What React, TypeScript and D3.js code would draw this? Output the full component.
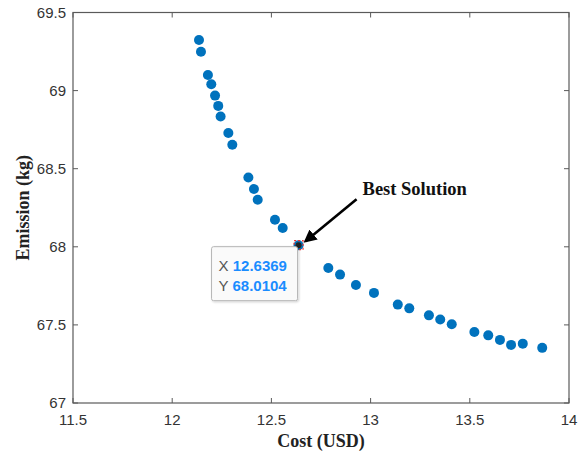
import React from 'react'
import * as d3 from 'd3'

// Pareto front
const cost = [
  12.135, 12.145, 12.18, 12.197, 12.216, 12.232, 12.244, 12.283, 12.303,
  12.384, 12.412, 12.431, 12.518, 12.557, 12.6369, 12.787, 12.846, 12.926,
  13.017, 13.137, 13.195, 13.294, 13.351, 13.409, 13.523, 13.593, 13.652,
  13.708, 13.767, 13.865,
]
const emission = [
  69.324, 69.249, 69.1, 69.041, 68.968, 68.902, 68.834, 68.728, 68.653,
  68.444, 68.37, 68.301, 68.173, 68.12, 68.0104, 67.864, 67.822, 67.756,
  67.705, 67.63, 67.606, 67.561, 67.534, 67.504, 67.455, 67.433, 67.404,
  67.372, 67.38, 67.353,
]
const xTicks = [11.5, 12, 12.5, 13, 13.5, 14]
const yTicks = [67, 67.5, 68, 68.5, 69, 69.5]
const best = { x: 12.6369, y: 68.0104, label: 'Best Solution' }

const W = 588
const H = 455
const margin = { left: 73, right: 19, top: 12.5, bottom: 52 }

const tickFont = '"Liberation Sans", Arial, sans-serif'
const labelFont = '"Liberation Serif", "Times New Roman", serif'

export default function App() {
  const x = d3.scaleLinear().domain([11.5, 14]).range([margin.left, W - margin.right])
  const y = d3.scaleLinear().domain([67, 69.5]).range([H - margin.bottom, margin.top])
  const [x0, x1] = x.range()
  const [y0, y1] = y.range()
  const axisColor = '#5a5a5a'
  const tl = 5

  const pts = d3.zip(cost, emission)
  const bx = x(best.x)
  const by = y(best.y)

  // arrow from the label down to the chosen point
  const ax0 = bx + 58
  const ay0 = by - 46
  const ax1 = bx + 7
  const ay1 = by - 4

  return (
    <div style={{ position: 'absolute', left: 0, top: 0 }}>
      <svg width={W} height={H} style={{ display: 'block', background: '#fff' }}>
        <defs>
          <marker id="head" viewBox="0 0 10 10" refX="8" refY="5" markerWidth="5" markerHeight="5" orient="auto">
            <path d="M0,0 L10,5 L0,10 z" fill="#000" />
          </marker>
          <filter id="shadow" x="-10%" y="-10%" width="130%" height="130%">
            <feDropShadow dx="1" dy="1" stdDeviation="1" floodColor="#000" floodOpacity="0.2" />
          </filter>
        </defs>

        {/* box */}
        <rect x={x0} y={y1} width={x1 - x0} height={y0 - y1} fill="none" stroke={axisColor} strokeWidth={1.2} />

        {xTicks.map((t) => (
          <g key={'x' + t}>
            <line x1={x(t)} x2={x(t)} y1={y0} y2={y0 - tl} stroke={axisColor} />
            <line x1={x(t)} x2={x(t)} y1={y1} y2={y1 + tl} stroke={axisColor} />
            <text x={x(t)} y={y0 + 22} textAnchor="middle" fontFamily={tickFont} fontSize={15} fill="#333">
              {t}
            </text>
          </g>
        ))}
        {yTicks.map((t) => (
          <g key={'y' + t}>
            <line x1={x0} x2={x0 + tl} y1={y(t)} y2={y(t)} stroke={axisColor} />
            <line x1={x1} x2={x1 - tl} y1={y(t)} y2={y(t)} stroke={axisColor} />
            <text x={x0 - 7} y={y(t) + 5} textAnchor="end" fontFamily={tickFont} fontSize={15} fill="#333">
              {t}
            </text>
          </g>
        ))}

        <text x={(x0 + x1) / 2} y={447} textAnchor="middle" fontFamily={labelFont} fontWeight="bold" fontSize={18} fill="#222">
          Cost (USD)
        </text>
        <text
          transform={`translate(29,${(y0 + y1) / 2}) rotate(-90)`}
          textAnchor="middle"
          fontFamily={labelFont}
          fontWeight="bold"
          fontSize={18}
          fill="#222"
        >
          Emission (kg)
        </text>

        {pts.map(([c, e], i) => (
          <circle key={i} cx={x(c)} cy={y(e)} r={5} fill="#0072BD" />
        ))}

        {/* data tip */}
        <rect x={bx - 4.5} y={by - 4.5} width={9} height={9} fill="none" stroke="#e33" strokeWidth={1.2} strokeDasharray="2,2" />
        <circle cx={bx} cy={by} r={3} fill="#222" />
        <g filter="url(#shadow)">
          <rect x={bx - 87} y={by + 1.5} width={86} height={54} rx={2} fill="#fafafa" stroke="#b5b5b5" />
        </g>
        <text x={bx - 80} y={by + 26} fontFamily={tickFont} fontSize={15}>
          <tspan fill="#555">X </tspan>
          <tspan fill="#1a8cff" fontWeight="bold">{best.x.toFixed(4)}</tspan>
        </text>
        <text x={bx - 80} y={by + 46} fontFamily={tickFont} fontSize={15}>
          <tspan fill="#555">Y </tspan>
          <tspan fill="#1a8cff" fontWeight="bold">{best.y.toFixed(4)}</tspan>
        </text>

        <line x1={ax0} y1={ay0} x2={ax1} y2={ay1} stroke="#000" strokeWidth={2.6} markerEnd="url(#head)" />
        <text x={bx + 64} y={by - 50} fontFamily={labelFont} fontWeight="bold" fontSize={18.5} fill="#111">
          {best.label}
        </text>
      </svg>
    </div>
  )
}
